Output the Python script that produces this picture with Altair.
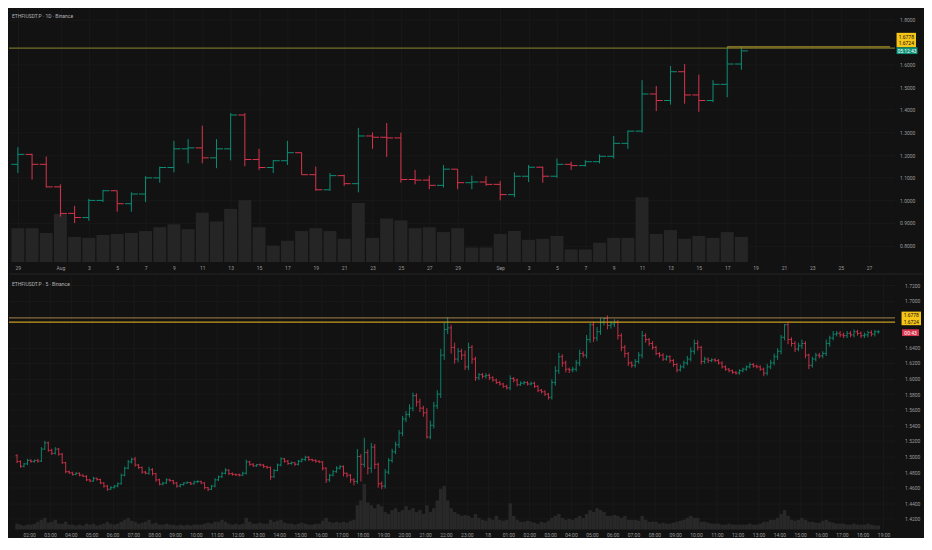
import altair as alt
import pandas as pd

BG = "#121212"
UP = "#0b8f75"
DN = "#d8344d"
LBL = "#9a9a9a"
GRID = "#191919"
FONT = "Roboto"

# ---------------- daily bars (Jul 29 -> Sep 18) ----------------
day_dates = pd.date_range("2025-07-29", periods=52, freq="D")
d_open = [1.159, 1.203, 1.159, 1.0594, 0.9423, 0.9239, 0.9996, 1.0423, 0.985, 1.0278,
          1.0991, 1.1449, 1.2274, 1.2316, 1.1876, 1.2274, 1.3769, 1.1803, 1.1449, 1.1748,
          1.2103, 1.1132, 1.0466, 1.109, 1.0735, 1.2842, 1.2786, 1.2756, 1.0919, 1.0893,
          1.0662, 1.1376, 1.0778, 1.0808, 1.0705, 1.0252, 1.1064, 1.1462, 1.1064, 1.159,
          1.1534, 1.1705, 1.1944, 1.2517, 1.3056, 1.4697, 1.441, 1.568, 1.4654, 1.441,
          1.5124, 1.6021]
d_high = [1.2346, 1.206, 1.1932, 1.0705, 0.9752, 1.0064, 1.0466, 1.0423, 1.035, 1.1064,
          1.1491, 1.2628, 1.2701, 1.3299, 1.2701, 1.3855, 1.3855, 1.2274, 1.1774, 1.2628,
          1.2103, 1.1491, 1.1205, 1.1132, 1.3201, 1.30, 1.3415, 1.2987, 1.1346, 1.109,
          1.156, 1.1376, 1.109, 1.1064, 1.085, 1.1235, 1.156, 1.1491, 1.1846, 1.1705,
          1.1774, 1.203, 1.2842, 1.3085, 1.5308, 1.5051, 1.5936, 1.6021, 1.5551, 1.5308,
          1.6778, 1.6770]
d_low = [1.1205, 1.092, 1.0564, 0.9282, 0.8996, 0.9098, 0.9923, 0.9496, 0.9496, 0.9923,
         1.0778, 1.1235, 1.1632, 1.1632, 1.1419, 1.1761, 1.1504, 1.1346, 1.1205, 1.156,
         1.1132, 1.0423, 1.0423, 1.0637, 1.035, 1.2274, 1.1919, 1.0778, 1.0705, 1.0491,
         1.0564, 1.0491, 1.0491, 1.0637, 0.9996, 1.0137, 1.0808, 1.0778, 1.0991, 1.1346,
         1.1491, 1.1632, 1.1846, 1.2274, 1.2987, 1.394, 1.4226, 1.4269, 1.391, 1.4338,
         1.4551, 1.5765]
d_close = [1.203, 1.159, 1.0594, 0.9423, 0.9239, 0.9996, 1.0423, 0.985, 1.0278, 1.0991,
           1.1449, 1.2274, 1.2316, 1.1876, 1.2274, 1.3769, 1.1803, 1.1449, 1.1748, 1.2103,
           1.1132, 1.0466, 1.109, 1.0735, 1.2842, 1.2786, 1.2756, 1.0919, 1.0893, 1.0662,
           1.1376, 1.0778, 1.0808, 1.0705, 1.0252, 1.1064, 1.1462, 1.1064, 1.159, 1.1534,
           1.1705, 1.1944, 1.2517, 1.3056, 1.4697, 1.441, 1.568, 1.4654, 1.441, 1.5124,
           1.6021, 1.6600]
d_vol = [3.5, 3.5, 3.0, 5.0, 2.6, 2.5, 2.8, 2.9, 3.0, 3.2, 3.6, 3.9, 3.4, 5.1, 4.2, 5.5,
         6.4, 3.6, 1.7, 2.2, 3.2, 3.5, 3.2, 2.4, 6.1, 2.5, 4.5, 4.3, 3.5, 3.6, 3.1, 3.5,
         1.5, 1.5, 2.9, 3.2, 2.3, 2.4, 2.7, 1.3, 1.3, 2.0, 2.5, 2.5, 6.7, 2.9, 3.3, 2.4,
         2.7, 2.5, 3.1, 2.6]

# ---------------- intraday bars (Sep 17 01:20 -> Sep 18 18:40, 10-min) ----------------
m_first_open = 1.5010
m_close = [
    1.4935, 1.4875, 1.4905, 1.4950,
    1.4935, 1.4950, 1.4940, 1.5095, 1.5175, 1.5080,
    1.5040, 1.5095, 1.5030, 1.4920, 1.4805, 1.4790,
    1.4770, 1.4785, 1.4760, 1.4745, 1.4700, 1.4685,
    1.4720, 1.4705, 1.4660, 1.4620, 1.4580, 1.4600,
    1.4620, 1.4650, 1.4760, 1.4850, 1.4930, 1.4965,
    1.4890, 1.4860, 1.4800, 1.4785, 1.4830, 1.4780,
    1.4700, 1.4645, 1.4660, 1.4700, 1.4690, 1.4660,
    1.4620, 1.4640, 1.4660, 1.4665, 1.4650, 1.4675,
    1.4680, 1.4660, 1.4600, 1.4580, 1.4620, 1.4700,
    1.4740, 1.4785, 1.4825, 1.4780, 1.4770, 1.4765,
    1.4760, 1.4785, 1.4930, 1.4900, 1.4880, 1.4895,
    1.4890, 1.4870, 1.4860, 1.4740, 1.4820, 1.4890,
    1.4970, 1.4940, 1.4910, 1.4920, 1.4900, 1.4940,
    1.4960, 1.4990, 1.4960, 1.4950, 1.4940, 1.4930,
    1.4850, 1.4700, 1.4760, 1.4805, 1.4850, 1.4870,
    1.4785, 1.4760, 1.4700, 1.4680, 1.5000, 1.4900,
    1.5050, 1.4850, 1.5120, 1.4900, 1.4650, 1.4620,
    1.4800, 1.4950, 1.5060, 1.5150, 1.5300, 1.5480,
    1.5540, 1.5620, 1.5780, 1.5700, 1.5620, 1.5560,
    1.5250, 1.5400, 1.5650, 1.5800, 1.6300, 1.6630,
    1.6650, 1.6400, 1.6250, 1.6350, 1.6300, 1.6150,
    1.6400, 1.6250, 1.6010, 1.6050, 1.6030, 1.6040,
    1.6010, 1.5980, 1.5950, 1.5930, 1.5900, 1.5880,
    1.6000, 1.5980, 1.5920, 1.5940, 1.5950, 1.5930,
    1.5940, 1.5900, 1.5850, 1.5830, 1.5800, 1.5760,
    1.5950, 1.6100, 1.6280, 1.6200, 1.6120, 1.6110,
    1.6120, 1.6200, 1.6320, 1.6300, 1.6500, 1.6690,
    1.6520, 1.6600, 1.6720, 1.6770, 1.6680, 1.6700,
    1.6720, 1.6550, 1.6400, 1.6320, 1.6200, 1.6170,
    1.6220, 1.6300, 1.6550, 1.6500, 1.6450, 1.6400,
    1.6320, 1.6300, 1.6250, 1.6280, 1.6230, 1.6180,
    1.6110, 1.6150, 1.6200, 1.6250, 1.6350, 1.6450,
    1.6400, 1.6220, 1.6250, 1.6230, 1.6240, 1.6230,
    1.6200, 1.6150, 1.6120, 1.6100, 1.6080, 1.6070,
    1.6100, 1.6120, 1.6150, 1.6180, 1.6160, 1.6150,
    1.6120, 1.6070, 1.6150, 1.6200, 1.6280, 1.6350,
    1.6530, 1.6690, 1.6500, 1.6450, 1.6380, 1.6420,
    1.6450, 1.6300, 1.6170, 1.6250, 1.6300, 1.6290,
    1.6320, 1.6450, 1.6520, 1.6570, 1.6580, 1.6560,
    1.6550, 1.6580, 1.6560, 1.6600, 1.6580, 1.6550,
    1.6560, 1.6590, 1.6570, 1.6600, 1.6600,
]
# upper / lower wick beyond the bar body, in pips (0.0001)
m_up = [
    20, 15, 15, 20,
    15, 10, 20, 25, 25, 15,   20, 25, 15, 15, 10, 15,   15, 15, 10, 10, 15, 10,
    20, 10, 10, 10, 15, 20,   15, 15, 20, 20, 25, 20,   30, 15, 10, 15, 40, 20,
    10, 15, 15, 20, 15, 10,   15, 10, 10, 15, 10, 15,   15, 10, 10, 10, 15, 20,
    15, 20, 25, 10, 15, 10,   15, 20, 30, 15, 15, 10,   15, 15, 10, 10, 20, 20,
    20, 10, 15, 15, 10, 15,   20, 20, 15, 10, 15, 10,   10, 10, 15, 20, 25, 20,
    15, 10, 15, 20, 95, 30,   190, 40, 55, 40, 20, 30,  40, 30, 40, 40, 40, 40,
    40, 50, 40, 30, 40, 30,   60, 60, 50, 50, 80, 90,   140, 40, 60, 40, 30, 60,
    60, 30, 30, 20, 20, 30,   25, 20, 20, 20, 15, 20,   40, 20, 20, 25, 20, 15,
    20, 20, 15, 15, 20, 15,   40, 60, 50, 30, 30, 20,   30, 40, 50, 30, 60, 20,
    40, 60, 60, 10, 40, 40,   40, 30, 30, 30, 20, 20,   30, 40, 60, 30, 20, 30,
    20, 20, 25, 20, 20, 20,   20, 30, 30, 40, 50, 50,   40, 20, 30, 20, 20, 20,
    20, 20, 20, 15, 15, 15,   20, 20, 20, 25, 20, 20,   20, 20, 40, 40, 40, 40,
    30, 10, 40, 30, 30, 40,   50, 30, 20, 30, 30, 30,   30, 50, 30, 40, 30, 30,
    30, 30, 30, 30, 25, 25,
    30, 25, 30, 25, 20,
]
m_dn = [
    20, 20, 15, 15,
    15, 15, 20, 10, 10, 20,   20, 15, 20, 15, 20, 15,   15, 10, 15, 10, 15, 15,
    10, 15, 15, 20, 20, 10,   10, 15, 10, 15, 15, 20,   20, 20, 20, 15, 20, 25,
    25, 15, 15, 10, 15, 20,   20, 15, 15, 10, 15, 10,   15, 15, 20, 25, 10, 15,
    15, 15, 15, 20, 15, 15,   15, 10, 15, 20, 15, 15,   15, 20, 20, 40, 15, 10,
    15, 20, 20, 15, 20, 15,   15, 20, 15, 15, 20, 15,   30, 40, 25, 15, 15, 15,
    40, 30, 40, 50, 30, 220,  40, 80, 60, 60, 50, 40,   30, 30, 30, 30, 40, 40,
    40, 40, 40, 60, 50, 50,   20, 30, 40, 40, 50, 60,   60, 80, 60, 40, 60, 40,
    40, 60, 40, 30, 30, 30,   30, 20, 20, 20, 20, 20,   30, 30, 20, 15, 20, 20,
    20, 20, 25, 20, 25, 30,   30, 40, 40, 50, 40, 40,   30, 30, 40, 30, 40, 40,
    50, 40, 40, 40, 50, 40,   40, 50, 50, 50, 40, 30,   30, 30, 40, 40, 30, 30,
    20, 30, 25, 20, 30, 30,   30, 20, 20, 30, 30, 40,   40, 40, 30, 30, 20, 20,
    20, 20, 20, 20, 20, 20,   20, 20, 20, 20, 20, 20,   20, 40, 30, 30, 30, 40,
    40, 40, 60, 40, 40, 30,   40, 40, 50, 30, 30, 30,   30, 30, 40, 30, 30, 30,
    30, 30, 30, 30, 30, 30,
    30, 30, 30, 30, 25,
]
m_vol = [
    6, 5, 4, 5,
    5, 6, 8, 10, 12, 7,   8, 10, 6, 6, 8, 5,   5, 4, 5, 4, 6, 5,
    6, 4, 5, 6, 8, 6,     5, 6, 8, 10, 12, 9,  8, 6, 7, 8, 10, 6,
    7, 5, 5, 6, 5, 5,     4, 5, 4, 5, 4, 5,    5, 5, 6, 7, 6, 8,
    8, 10, 8, 6, 5, 6,    5, 6, 12, 8, 6, 6,   7, 6, 6, 10, 8, 9,
    10, 7, 6, 6, 5, 6,    7, 6, 5, 5, 6, 6,    9, 12, 8, 7, 8, 7,
    8, 7, 9, 10, 25, 30,  47, 28, 25, 22, 26, 24,  18, 16, 20, 22, 18, 20,
    24, 20, 22, 18, 20, 16,  25, 18, 22, 30, 42, 45,  30, 22, 18, 16, 14, 15,
    14, 12, 16, 12, 10, 9,   12, 10, 14, 10, 9, 10,   27, 14, 10, 8, 8, 9,
    8, 7, 6, 8, 7, 9,     12, 14, 16, 12, 10, 11,  10, 12, 14, 12, 16, 20,
    18, 22, 20, 18, 14, 14,  15, 14, 12, 14, 10, 10,  10, 9, 14, 10, 8, 8,
    8, 6, 7, 6, 6, 7,     8, 9, 10, 12, 14, 12,  12, 8, 8, 7, 6, 6,
    6, 5, 5, 6, 5, 5,     5, 5, 5, 6, 5, 5,    6, 8, 8, 10, 10, 12,
    16, 20, 14, 10, 9, 10,  12, 10, 8, 8, 7, 7,  9, 10, 8, 7, 6, 6,
    6, 5, 5, 6, 5, 5,
    5, 6, 5, 4, 4,
]
assert len(m_close) == len(m_up) == len(m_dn) == len(m_vol) == 249

LEVEL_HI = 1.6778
LEVEL_LO = 1.6724

top_price_ticks = [0.8, 0.9, 1.0, 1.1, 1.2, 1.3, 1.4, 1.5, 1.6, 1.8]
bot_price_ticks = [1.42, 1.44, 1.46, 1.48, 1.50, 1.52, 1.54, 1.56, 1.58, 1.60, 1.62, 1.64, 1.70, 1.72]
top_time_ticks = (["2025-07-29"] + [f"2025-08-{d:02d}" for d in range(1, 30, 2)]
                  + [f"2025-09-{d:02d}" for d in range(1, 28, 2)])
bot_time_ticks = list(pd.date_range("2025-09-17 02:00", "2025-09-18 19:00", freq="h"))


def dt(ts):
    ts = pd.Timestamp(ts)
    return alt.DateTime(year=ts.year, month=ts.month, date=ts.day,
                        hours=ts.hour, minutes=ts.minute, seconds=ts.second)


# ---------------- frames ----------------
top = pd.DataFrame({"date": day_dates, "open": d_open, "high": d_high,
                    "low": d_low, "close": d_close, "vol": d_vol})
top["dir"] = ["up" if c >= o else "down" for o, c in zip(d_open, d_close)]
top["t0"] = top["date"] - pd.Timedelta(hours=11)
top["t1"] = top["date"] + pd.Timedelta(hours=11)

m_times = pd.date_range("2025-09-17 01:25", periods=len(m_close), freq="10min")
m_open = [m_first_open] + m_close[:-1]
bot = pd.DataFrame({"date": m_times, "open": m_open, "close": m_close, "vol": m_vol})
bot["high"] = [max(o, c) + u / 10000 for o, c, u in zip(m_open, m_close, m_up)]
bot["low"] = [min(o, c) - d / 10000 for o, c, d in zip(m_open, m_close, m_dn)]
bot["dir"] = ["up" if c >= o else "down" for o, c in zip(m_open, m_close)]
bot["t0"] = bot["date"] - pd.Timedelta(minutes=4.5)
bot["t1"] = bot["date"] + pd.Timedelta(minutes=4.5)

one = pd.DataFrame({"k": [0]})

W = 888
H1 = 254
H2 = 253

color = alt.Color("dir:N", scale=alt.Scale(domain=["up", "down"], range=[UP, DN]), legend=None)

TOP_TITLE = "ETHFIUSDT.P · 1D · Binance"
BOT_TITLE = "ETHFIUSDT.P · 5 · Binance"
TOP_XDOM = ["2025-07-28 17:26", "2025-09-28 11:33"]
BOT_XDOM = ["2025-09-17 01:16:10", "2025-09-18 19:18:47"]


def panel(df, xdom, xticks, xlabel_expr, ydom, yticks, ylabpad, voldom, volsize, title,
          level_start, lo_style, hi_style, bar_w, vol_color, boxes, separator):
    xs = alt.Scale(domain=[dt(xdom[0]), dt(xdom[1])])
    xaxis = alt.Axis(values=xticks, labelExpr=xlabel_expr, grid=True, gridColor=GRID,
                     labelPadding=3, title=None, ticks=False, domain=False,
                     labelOverlap=False, labelFontSize=5, labelColor=LBL, labelFont=FONT)
    ys = alt.Scale(domain=ydom, zero=False, nice=False)
    yaxis = alt.Axis(orient="right", values=yticks, format=".4f", grid=True, gridColor=GRID,
                     labelPadding=ylabpad, minExtent=28, maxExtent=28, title=None,
                     ticks=False, domain=False, labelFontSize=5, labelColor=LBL,
                     labelFont=FONT)
    X = lambda f: alt.X(f, scale=xs, axis=xaxis)

    vol = alt.Chart(df).mark_bar(color=vol_color, size=volsize).encode(
        x=X("date:T"),
        y=alt.Y("vol:Q", scale=alt.Scale(domain=voldom, nice=False), axis=None),
    )
    wick = alt.Chart(df).mark_rule(strokeWidth=bar_w).encode(
        x=X("date:T"), y=alt.Y("low:Q", scale=ys, axis=yaxis), y2="high:Q", color=color)
    otick = alt.Chart(df).mark_rule(strokeWidth=bar_w).encode(
        x=X("t0:T"), x2="date:T", y=alt.Y("open:Q", scale=ys, axis=yaxis), color=color)
    ctick = alt.Chart(df).mark_rule(strokeWidth=bar_w).encode(
        x=X("date:T"), x2="t1:T", y=alt.Y("close:Q", scale=ys, axis=yaxis), color=color)

    lv_lo = alt.Chart(pd.DataFrame({"level": [LEVEL_LO]})).mark_rule(
        color=lo_style[0], strokeWidth=lo_style[1]).encode(
        y=alt.Y("level:Q", scale=ys, axis=yaxis))
    if level_start is None:
        lv_hi = alt.Chart(pd.DataFrame({"level": [LEVEL_HI]})).mark_rule(
            color=hi_style[0], strokeWidth=hi_style[1]).encode(
            y=alt.Y("level:Q", scale=ys, axis=yaxis))
    else:
        lv_hi = alt.Chart(pd.DataFrame({"level": [LEVEL_HI], "s": [pd.Timestamp(level_start)],
                                        "e": [pd.Timestamp(xdom[1])]})).mark_rule(
            color=hi_style[0], strokeWidth=hi_style[1]).encode(
            x=X("s:T"), x2="e:T", y=alt.Y("level:Q", scale=ys, axis=yaxis))

    price = alt.layer(wick, otick, ctick, lv_lo, lv_hi)

    ann = [alt.Chart(one).mark_text(text=title, align="left", baseline="middle", font=FONT,
                                    fontSize=5, color="#b4b4b4").encode(
        x=alt.value(3), y=alt.value(7))]
    if separator is not None:
        ann.append(alt.Chart(one).mark_rule(color="#262626", strokeWidth=1).encode(
            x=alt.value(0), x2=alt.value(916), y=alt.value(separator)))
    for (x0, x1, y0, y1, fill, texts) in boxes:
        ann.append(alt.Chart(one).mark_rect(color=fill).encode(
            x=alt.value(x0), x2=alt.value(x1), y=alt.value(y0), y2=alt.value(y1)))
        for (ty, txt, tc) in texts:
            ann.append(alt.Chart(one).mark_text(text=txt, align="center", baseline="middle",
                                                font=FONT, fontSize=5, color=tc).encode(
                x=alt.value((x0 + x1) / 2), y=alt.value(ty)))

    return alt.layer(vol, price, *ann).resolve_scale(y="independent")


top_panel = panel(
    top, TOP_XDOM, [dt(t) for t in top_time_ticks],
    "date(datum.value) == 1 ? timeFormat(datum.value, '%b') : '' + date(datum.value)",
    [0.7274, 1.847], top_price_ticks, 4.5, [0, 26.2], 13, TOP_TITLE, "2025-09-17",
    ("#8f8a2c", 1), ("#a38c2a", 1.3), 1, "#252525",
    [(889.5, 909, 24.3, 38.8, "#f5c518", [(28, "1.6778", "#111111"), (35, "1.6724", "#111111")]),
     (889.5, 910.5, 38.8, 45.6, UP, [(42.3, "05:12:43", "#ffffff")])],
    H1 + 12,
).properties(width=W, height=H1)

bot_panel = panel(
    bot, BOT_XDOM, [dt(t) for t in bot_time_ticks],
    "hours(datum.value) == 0 ? '' + date(datum.value) : timeFormat(datum.value, '%H:%M')",
    [1.4064, 1.7303], bot_price_ticks, 9.5, [0, 261], 3.5, BOT_TITLE, None,
    ("#c99d1e", 1.4), ("#a8834a", 1), 0.9, "#282828",
    [(894.5, 914, 34.7, 48.3, "#f5c518", [(38, "1.6778", "#111111"), (45, "1.6724", "#111111")]),
     (895, 912, 52.4, 59.2, DN, [(55.8, "00:43", "#ffffff")])],
    None,
).properties(width=W, height=H2)

chart = alt.vconcat(top_panel, bot_panel, spacing=2).properties(
    padding=0, background=BG
).configure_view(stroke=None, fill=BG)

chart.save("out.html", embed_options={"renderer": "svg", "actions": False})
